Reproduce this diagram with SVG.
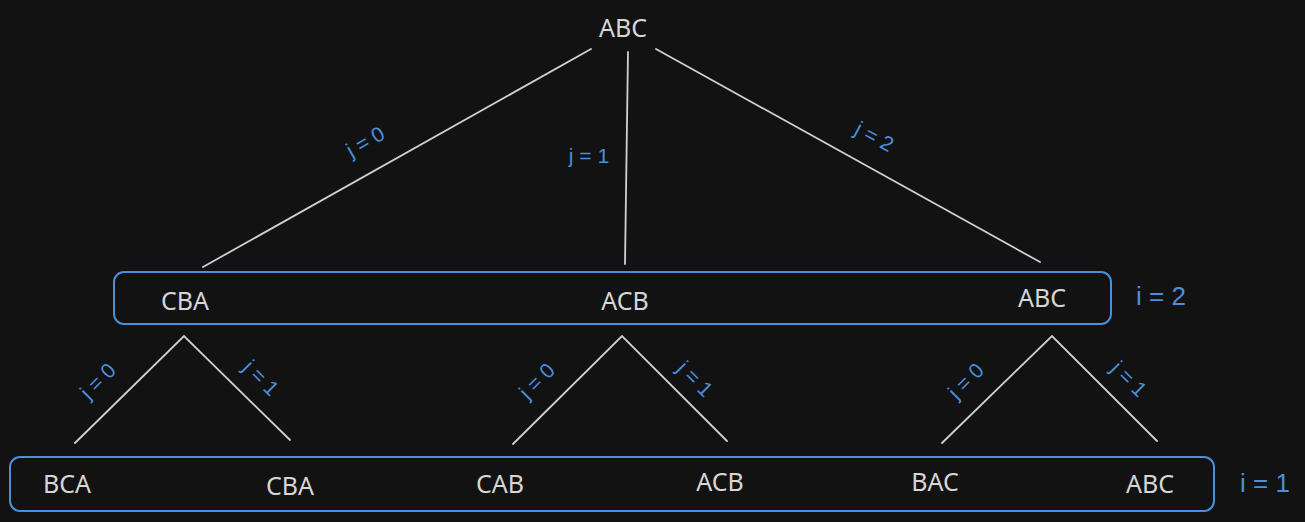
<svg xmlns="http://www.w3.org/2000/svg" width="1305" height="522" viewBox="0 0 1305 522">
<style>
.node{font-family:"Noto Sans","DejaVu Sans",sans-serif;font-size:25px;fill:#d6d6d6;text-anchor:middle}
.lbl{font-family:"Liberation Sans","Noto Sans",sans-serif;font-size:21px;fill:#4a90d9;text-anchor:middle}
.lvl{font-family:"Liberation Sans","Noto Sans",sans-serif;font-size:26px;fill:#4a90d9;text-anchor:middle}
.box{fill:none;stroke:#4a90d9;stroke-width:2}
.edge{stroke:#d0d0d0;stroke-width:1.8;fill:none;stroke-linecap:round}
</style>
<rect width="1305" height="522" fill="#121212"/>
<g id="connectors">
<line class="edge" x1="591" y1="49" x2="203" y2="267"/>
<line class="edge" x1="628" y1="52" x2="625" y2="264"/>
<line class="edge" x1="656" y1="49" x2="1040" y2="262"/>
<polyline class="edge" points="75,443 184,336 290,440"/>
<polyline class="edge" points="513,444 622,336 727,441"/>
<polyline class="edge" points="942,443 1052,336 1157,441"/>
<text class="lbl" transform="translate(369,148) rotate(-30)">j = 0</text>
<text class="lbl" x="589" y="163">j = 1</text>
<text class="lbl" transform="translate(871,143) rotate(28)">j = 2</text>
<text class="lbl" transform="translate(103,386) rotate(-45)">j = 0</text>
<text class="lbl" transform="translate(256,383) rotate(45)">j = 1</text>
<text class="lbl" transform="translate(542,386) rotate(-45)">j = 0</text>
<text class="lbl" transform="translate(690,384) rotate(45)">j = 1</text>
<text class="lbl" transform="translate(971,386) rotate(-45)">j = 0</text>
<text class="lbl" transform="translate(1124,384) rotate(45)">j = 1</text>
</g>
<g id="root"><text class="node" x="623" y="37">ABC</text></g>
<g id="level2">
<rect class="box" x="114" y="272" width="997" height="52" rx="10"/>
<text class="node" x="185" y="310">CBA</text>
<text class="node" x="625" y="310">ACB</text>
<text class="node" x="1042" y="307">ABC</text>
<text class="lvl" x="1161" y="305">i = 2</text>
</g>
<g id="level1">
<rect class="box" x="10" y="457" width="1204" height="54" rx="10"/>
<text class="node" x="67" y="493">BCA</text>
<text class="node" x="290" y="495">CBA</text>
<text class="node" x="500" y="493">CAB</text>
<text class="node" x="720" y="491">ACB</text>
<text class="node" x="935" y="491">BAC</text>
<text class="node" x="1150" y="493">ABC</text>
<text class="lvl" x="1265" y="492">i = 1</text>
</g>
</svg>
